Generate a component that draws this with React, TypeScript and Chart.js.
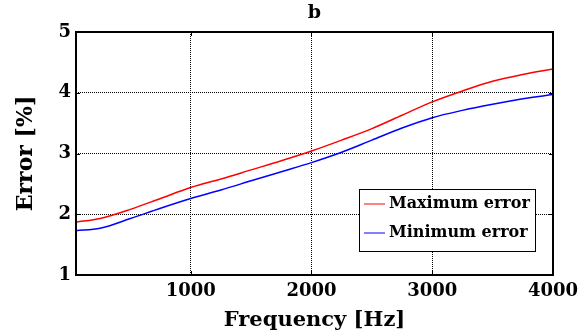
import React, { useEffect, useRef } from "react";
import { Chart, registerables } from "chart.js";

Chart.register(...registerables);

const frequencies = [50, 250, 500, 750, 1000, 1250, 1500, 1750, 2000, 2250, 2500, 2750, 3000, 3250, 3500, 3750, 4000];
const maxError = [1.87, 1.93, 2.08, 2.26, 2.44, 2.58, 2.73, 2.88, 3.04, 3.22, 3.41, 3.63, 3.85, 4.03, 4.19, 4.30, 4.39];
const minError = [1.73, 1.77, 1.93, 2.10, 2.26, 2.40, 2.55, 2.70, 2.85, 3.02, 3.22, 3.42, 3.59, 3.71, 3.81, 3.90, 3.97];
const xTicks = [1000, 2000, 3000, 4000];
const seriesLabels = ["Maximum error", "Minimum error"];
const chartTitle = "b";
const xTitle = "Frequency [Hz]";
const yTitle = "Error [%]";

const FONT = "'DejaVu Serif', serif";

const framePlugin = {
  id: "frame",
  afterDraw(chart: any) {
    const { ctx, chartArea: a } = chart;
    ctx.save();
    ctx.strokeStyle = "#000";
    ctx.lineWidth = 2;
    ctx.setLineDash([]);
    ctx.strokeRect(a.left, a.top, a.right - a.left, a.bottom - a.top);
    ctx.lineWidth = 1;
    const xs = chart.scales.x;
    const ys = chart.scales.y;
    xTicks.forEach((v) => {
      const px = Math.round(xs.getPixelForValue(v)) + 0.5;
      ctx.beginPath();
      ctx.moveTo(px, a.top);
      ctx.lineTo(px, a.top + 4);
      ctx.moveTo(px, a.bottom);
      ctx.lineTo(px, a.bottom - 4);
      ctx.stroke();
    });
    ys.ticks.forEach((t: any) => {
      const py = Math.round(ys.getPixelForValue(t.value)) + 0.5;
      ctx.beginPath();
      ctx.moveTo(a.left, py);
      ctx.lineTo(a.left + 4, py);
      ctx.moveTo(a.right, py);
      ctx.lineTo(a.right - 4, py);
      ctx.stroke();
    });
    ctx.fillStyle = "#000";
    ctx.font = `bold 19px ${FONT}`;
    ctx.textAlign = "center";
    ctx.textBaseline = "middle";
    ctx.fillText(chartTitle, (a.left + a.right) / 2, 13);
    const bw = 176;
    const bh = 62;
    const bx = a.right - 18 - bw;
    const by = a.bottom - 24 - bh;
    ctx.fillStyle = "#fff";
    ctx.fillRect(bx, by, bw, bh);
    ctx.strokeStyle = "#000";
    ctx.lineWidth = 1;
    ctx.strokeRect(Math.round(bx) + 0.5, Math.round(by) + 0.5, bw, bh);
    ctx.font = `bold 16px ${FONT}`;
    ctx.textAlign = "left";
    ctx.textBaseline = "middle";
    chart.data.datasets.forEach((ds: any, i: number) => {
      const ly = by + 15 + i * 29;
      ctx.strokeStyle = ds.borderColor;
      ctx.lineWidth = 1;
      ctx.beginPath();
      ctx.moveTo(bx + 5, ly);
      ctx.lineTo(bx + 26, ly);
      ctx.stroke();
      ctx.fillStyle = "#000";
      ctx.fillText(ds.label, bx + 30, ly);
    });
    ctx.restore();
  },
};

export default function App() {
  const ref = useRef<HTMLCanvasElement>(null);
  useEffect(() => {
    document.body.style.margin = "0";
    const chart = new Chart(ref.current as HTMLCanvasElement, {
      type: "line",
      data: {
        datasets: [
          {
            label: seriesLabels[0],
            data: frequencies.map((f, i) => ({ x: f, y: maxError[i] })),
            borderColor: "#ff0000",
            borderWidth: 1.5,
            pointRadius: 0,
            cubicInterpolationMode: "monotone",
            fill: false,
          },
          {
            label: seriesLabels[1],
            data: frequencies.map((f, i) => ({ x: f, y: minError[i] })),
            borderColor: "#0000ff",
            borderWidth: 1.5,
            pointRadius: 0,
            cubicInterpolationMode: "monotone",
            fill: false,
          },
        ],
      },
      options: {
        responsive: false,
        animation: false,
        layout: { padding: { top: 32, right: 32, left: 0, bottom: 0 } },
        plugins: {
          legend: { display: false },
          title: { display: false },
          tooltip: { enabled: false },
        },
        scales: {
          x: {
            type: "linear",
            min: 50,
            max: 4000,
            afterBuildTicks: (s: any) => {
              s.ticks = xTicks.map((v) => ({ value: v }));
            },
            afterFit: (s: any) => {
              s.height = 59;
            },
            border: { display: false, dash: [1, 1] },
            grid: { color: "#000", lineWidth: 1, drawTicks: false },
            ticks: {
              color: "#000",
              padding: 6,
              maxRotation: 0,
              font: { family: FONT, size: 18, weight: "bold" },
              callback: (v: any) => String(v),
            },
            title: {
              display: true,
              text: xTitle,
              color: "#000",
              font: { family: FONT, size: 21, weight: "bold" },
              padding: { top: 0, bottom: 1 },
            },
          },
          y: {
            min: 1,
            max: 5,
            afterFit: (s: any) => {
              s.width = 76;
            },
            border: { display: false, dash: [1, 1] },
            grid: { color: "#000", lineWidth: 1, drawTicks: false },
            ticks: {
              stepSize: 1,
              color: "#000",
              padding: 5,
              font: { family: FONT, size: 18, weight: "bold" },
            },
            title: {
              display: true,
              text: yTitle,
              color: "#000",
              font: { family: FONT, size: 22, weight: "bold" },
              padding: { top: 13, bottom: 0 },
            },
          },
        },
      },
      plugins: [framePlugin],
    } as any);
    return () => chart.destroy();
  }, []);
  return (
    <div style={{ position: "absolute", left: 0, top: 0, width: 585, height: 334 }}>
      <canvas ref={ref} width={585} height={334} />
    </div>
  );
}
